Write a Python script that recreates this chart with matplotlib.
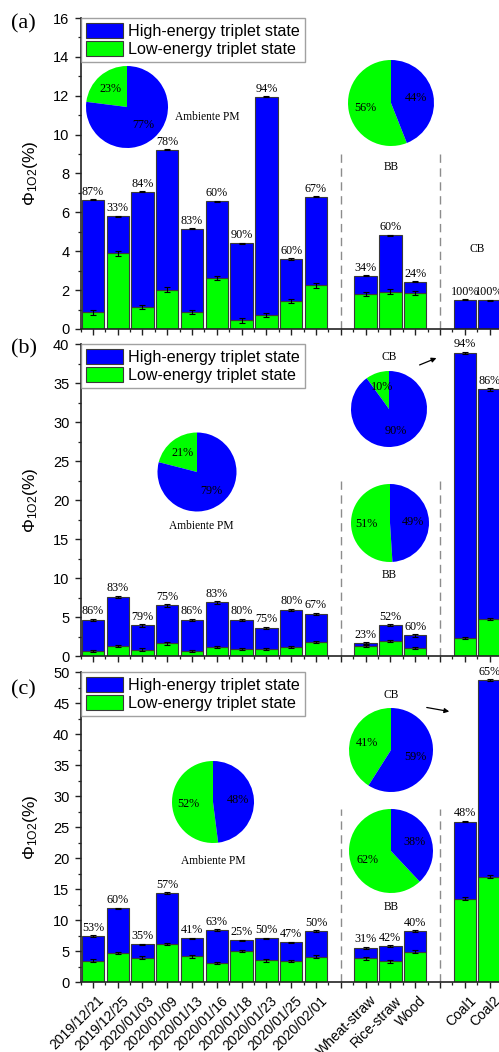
import numpy as np
import matplotlib
matplotlib.use('Agg')
import matplotlib.pyplot as plt
from matplotlib.patches import Patch, FancyArrowPatch
from matplotlib.ticker import MultipleLocator, FixedLocator
from matplotlib.transforms import ScaledTranslation

# ---- data -------------------------------------------------------------
ambient_dates = ['2019/12/21', '2019/12/25', '2020/01/03', '2020/01/09', '2020/01/13',
                 '2020/01/16', '2020/01/18', '2020/01/23', '2020/01/25', '2020/02/01']
bb_sources = ['Wheat-straw', 'Rice-straw', 'Wood']
cb_sources = ['Coal1', 'Coal2']

# total quantum yield per sample (ambient 10, BB 3, CB 2)
total_a = [6.65, 5.80, 7.07, 9.23, 5.16, 6.57, 4.41, 11.94, 3.60, 6.81, 2.74, 4.82, 2.44, 1.51, 1.48]
total_b = [4.62, 7.60, 3.93, 6.50, 4.62, 6.88, 4.62, 3.63, 5.90, 5.43, 1.65, 3.97, 2.65, 38.9, 34.2]
total_c = [7.43, 11.90, 6.10, 14.40, 7.06, 8.45, 6.74, 7.06, 6.42, 8.24, 5.56, 5.83, 8.24, 25.9, 48.7]

# share of the high-energy triplet state (%)
high_pct_a = [87, 33, 84, 78, 83, 60, 90, 94, 60, 67, 34, 60, 24, 100, 100]
high_pct_b = [86, 83, 79, 75, 86, 83, 80, 75, 80, 67, 23, 52, 60, 94, 86]
high_pct_c = [53, 60, 35, 57, 41, 63, 25, 50, 47, 50, 31, 42, 40, 48, 65]

# pie charts: [low-energy, high-energy] shares (%)
pie_amb_a = [23, 77]
pie_bb_a = [56, 44]
pie_amb_b = [21, 79]
pie_cb_b = [10, 90]
pie_bb_b = [51, 49]
pie_amb_c = [52, 48]
pie_cb_c = [41, 59]
pie_bb_c = [62, 38]

# ---- style ------------------------------------------------------------
BLUE = '#0000ff'
GREEN = '#00ff00'
EDGE = '#3a3a3a'
SERIF = ['Liberation Serif', 'DejaVu Serif']
SANS = ['Liberation Sans', 'DejaVu Sans']
plt.rcParams['font.family'] = SANS
plt.rcParams['mathtext.fontset'] = 'custom'
plt.rcParams['mathtext.rm'] = 'Liberation Sans'
plt.rcParams['mathtext.it'] = 'Liberation Sans:italic'

W, H = 499, 1052
fig = plt.figure(figsize=(W / 100, H / 100), dpi=100)

labels = ambient_dates + bb_sources + cb_sources
xpos = np.array(list(range(1, 11)) + [12, 13, 14] + [16, 17], dtype=float)


def fig_box(left_px, top_px, right_px, bottom_px):
    return [left_px / W, 1 - bottom_px / H, (right_px - left_px) / W, (bottom_px - top_px) / H]


def bar_panel(top_px, bottom_px, total, high_pct, ymax, major, minor, dash_top,
              err_low, err_tot, show_xlabels, tag, tag_y):
    ax = fig.add_axes(fig_box(80.5, top_px, W, bottom_px))
    total = np.asarray(total, dtype=float)
    low = total * (1 - np.asarray(high_pct) / 100.0)
    high = total - low
    ax.bar(xpos, low, width=0.9, color=GREEN, edgecolor=EDGE, linewidth=0.8, zorder=2)
    ax.bar(xpos, high, bottom=low, width=0.9, color=BLUE, edgecolor=EDGE,
           linewidth=0.8, zorder=2)
    mask = low > 0
    ax.errorbar(xpos[mask], low[mask], yerr=err_low, fmt='none', ecolor='black',
                elinewidth=0.8, capsize=2.5, capthick=0.8, zorder=3)
    ax.errorbar(xpos, total, yerr=err_tot, fmt='none', ecolor='black',
                elinewidth=0.8, capsize=2.5, capthick=0.8, zorder=3)
    for x, t, p in zip(xpos, total, high_pct):
        ax.annotate(f'{p}%', (x, t + err_tot), xytext=(0, 1), textcoords='offset points',
                    ha='center', va='bottom', fontsize=8.7, family=SERIF)
    for xd in (11, 15):
        ax.plot([xd, xd], [0, dash_top], color='#8c8c8c', lw=1.0, ls=(0, (6, 4)), zorder=1)

    ax.set_xlim(0.5, 1 + (W - 92.7) / 24.8)
    ax.set_ylim(0, ymax)
    for s in ('top', 'right'):
        ax.spines[s].set_visible(False)
    for s in ('left', 'bottom'):
        ax.spines[s].set_linewidth(1.2)
        ax.spines[s].set_color('#222222')
    ax.yaxis.set_major_locator(MultipleLocator(major))
    ax.yaxis.set_minor_locator(MultipleLocator(minor))
    ax.xaxis.set_major_locator(FixedLocator(list(range(1, 18))))
    ax.xaxis.set_minor_locator(FixedLocator([i + 0.5 for i in range(0, 18)]))
    ax.tick_params(axis='both', which='major', direction='out', length=4.5, width=1.0,
                   labelsize=10.5, color='#222222')
    ax.tick_params(axis='both', which='minor', direction='out', length=2.5, width=0.9,
                   color='#222222')
    if show_xlabels:
        tick_text = []
        lab_iter = iter(labels)
        for i in range(1, 18):
            tick_text.append('' if i in (11, 15) else next(lab_iter))
        ax.set_xticklabels(tick_text, rotation=45, ha='right', rotation_mode='anchor',
                           fontsize=10)
        shift = ScaledTranslation(4 / 100, 0, fig.dpi_scale_trans)
        for lab in ax.get_xticklabels():
            lab.set_transform(lab.get_transform() + shift)
    else:
        ax.set_xticklabels([])
    ax.set_ylabel(r'$\Phi_{\mathrm{1O2}}$(%)', fontsize=12.5)
    ax.yaxis.set_label_coords(-0.097, 0.5)
    handles = [Patch(facecolor=BLUE, edgecolor=EDGE, linewidth=0.8),
               Patch(facecolor=GREEN, edgecolor=EDGE, linewidth=0.8)]
    leg = ax.legend(handles, ['High-energy triplet state', 'Low-energy triplet state'],
                    loc='upper left', bbox_to_anchor=(0.002, 1.0), fontsize=11.6,
                    frameon=True, fancybox=False, edgecolor='#8a8a8a',
                    handlelength=2.3, handleheight=1.05, handletextpad=0.3,
                    labelspacing=0.12, borderpad=0.3, borderaxespad=0.0)
    leg.get_frame().set_linewidth(1.0)
    fig.text(11 / W, 1 - tag_y / H, tag, fontsize=16, family=SERIF, va='center', ha='left')
    return ax


def pie(cx, cy, r, shares):
    ax = fig.add_axes([(cx - r) / W, 1 - (cy + r) / H, 2 * r / W, 2 * r / H])
    ax.pie(shares, colors=[GREEN, BLUE], startangle=90, counterclock=True,
           autopct=lambda p: f'{p:.0f}%', pctdistance=0.6,
           textprops=dict(fontsize=8.7, family=SERIF),
           wedgeprops=dict(linewidth=0))
    ax.set_xlim(-1, 1)
    ax.set_ylim(-1, 1)
    ax.set_aspect('auto')
    ax.axis('off')
    return ax


def note(x, y, s):
    fig.text(x / W, 1 - y / H, s, fontsize=8.3, family=SERIF, ha='center', va='center')


def arrow(x0, y0, x1, y1):
    fig.add_artist(FancyArrowPatch(
        (x0 / W, 1 - y0 / H), (x1 / W, 1 - y1 / H), transform=fig.transFigure,
        arrowstyle='-|>', mutation_scale=7, lw=0.9, color='black'))


# panel (a)
bar_panel(18, 329, total_a, high_pct_a, 16, 2, 1, 9.0, 0.12, 0.03, False, '(a)', 24)
pie(127, 107, 41, pie_amb_a)
pie(391, 103, 43, pie_bb_a)
note(207, 117, 'Ambiente PM')
note(391, 167, 'BB')
note(477, 249, 'CB')

# panel (b)
bar_panel(344.3, 656, total_b, high_pct_b, 40, 5, 2.5, 22.5, 0.15, 0.15, False, '(b)', 349)
pie(197, 472, 39.5, pie_amb_b)
pie(389, 409, 38, pie_cb_b)
pie(390, 523, 39, pie_bb_b)
note(201, 526, 'Ambiente PM')
note(389, 357, 'CB')
note(389, 575, 'BB')
arrow(417, 366, 439, 357)

# panel (c)
bar_panel(672, 982.3, total_c, high_pct_c, 50, 5, 2.5, 28, 0.2, 0.15, True, '(c)', 690)
pie(213, 802, 41, pie_amb_c)
pie(391, 750, 42, pie_cb_c)
pie(391, 851, 42, pie_bb_c)
note(213, 861, 'Ambiente PM')
note(391, 695, 'CB')
note(391, 907, 'BB')
arrow(424, 707, 452, 712)

fig.savefig('out.png', dpi=100)
